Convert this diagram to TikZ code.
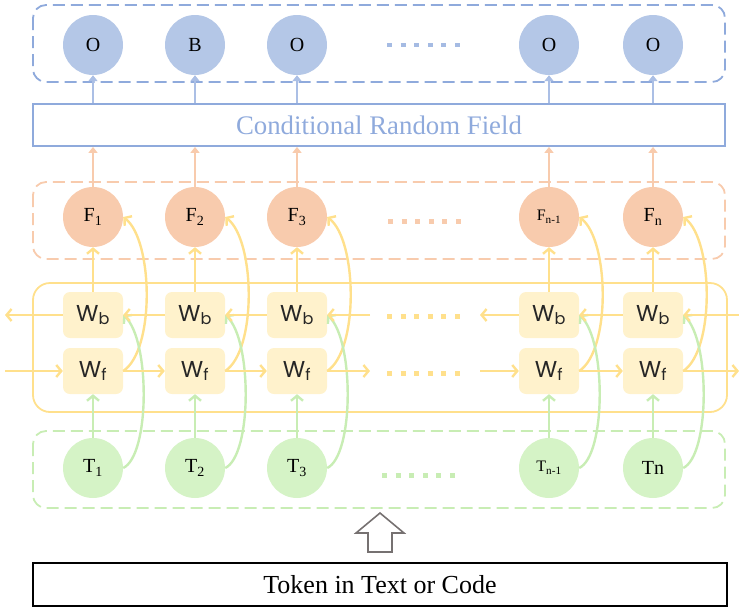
\documentclass[tikz,border=0pt]{standalone}
\usepackage{fontspec}
\setmainfont{Liberation Serif}
\newfontfamily\cellfont{Poppins}
\usetikzlibrary{arrows.meta,positioning,calc}
\definecolor{crfblue}{HTML}{B4C7E7}
\definecolor{crfline}{HTML}{8FAADC}
\definecolor{featorange}{HTML}{F8CBAD}
\definecolor{lstmfill}{HTML}{FFF2CC}
\definecolor{lstmline}{HTML}{FFE08C}
\definecolor{tokgreen}{HTML}{D5F3C6}
\definecolor{tokline}{HTML}{C8EDB4}
\definecolor{hollowgrey}{HTML}{767171}
\tikzset{
  tag/.style={circle,fill=crfblue,minimum size=60pt,inner sep=0pt,
              font=\fontsize{20}{20}\selectfont},
  feat/.style={circle,fill=featorange,minimum size=60pt,inner sep=0pt,
               font=\fontsize{20}{20}\selectfont},
  tok/.style={circle,fill=tokgreen,minimum size=60pt,inner sep=0pt,
              font=\fontsize{20}{20}\selectfont},
  cell/.style={fill=lstmfill,rounded corners=7pt,minimum width=60pt,
               minimum height=46pt,inner sep=0pt,text=black!85,
               font=\cellfont\fontsize{23}{23}\selectfont},
  group/.style={dash pattern=on 12pt off 6pt,line width=1.8pt,rounded corners=13pt},
  dots/.style={line width=5pt,dash pattern=on 5pt off 8.6pt},
  blar/.style={-{Triangle[length=6pt,width=9pt]},line width=2.2pt,crfline!75},
  orar/.style={-{Triangle[length=6pt,width=9pt]},line width=2.2pt,featorange},
  ylar/.style={-{Straight Barb[length=5pt,width=12pt]},line width=2.4pt,lstmline},
  grar/.style={-{Straight Barb[length=5pt,width=12pt]},line width=2.4pt,tokline},
}
\begin{document}
\begin{tikzpicture}[x=1pt,y=-1pt]
  \useasboundingbox (0,0) rectangle (739,608);
  % layer frames
  \draw[group,crfline] (33,5) rectangle (725,82);
  \draw[group,featorange] (33,182) rectangle (725,259);
  \draw[lstmline,line width=1.8pt,rounded corners=17pt] (33,283) rectangle (727,412);
  \draw[group,tokline] (33,431) rectangle (725,508);

  \node[draw=crfline,line width=1.8pt,minimum width=692pt,minimum height=42pt,
        text=crfline,font=\fontsize{26.8}{30}\selectfont] (crf) at (379,125)
       {Conditional Random Field};
  \node[draw,line width=2.2pt,minimum width=694pt,minimum height=43pt,
        font=\fontsize{26}{30}\selectfont] (input) at (380,584.5)
       {Token in Text or Code};

  % one column per token
  \foreach \i/\x/\tg/\fl/\tl in {
      1/93/O/{F\textsubscript{1}}/{T\textsubscript{1}},
      2/195/B/{F\textsubscript{2}}/{T\textsubscript{2}},
      3/297/O/{F\textsubscript{3}}/{T\textsubscript{3}},
      4/549/O/{\fontsize{16}{16}\selectfont F\textsubscript{n-1}}/{\fontsize{16}{16}\selectfont T\textsubscript{n-1}},
      5/653/O/{F\textsubscript{n}}/{Tn}}{
    \node[tag] (o\i) at (\x,45) {\tg};
    \node[feat] (f\i) at (\x,217) {\fl};
    \node[cell] (wb\i) at (\x,315) {W\textsubscript{b}};
    \node[cell] (wf\i) at (\x,371) {W\textsubscript{f}};
    \node[tok] (t\i) at (\x,468) {\tl};
    \draw[blar] (crf.north -| o\i) -- (o\i);
    \draw[orar] (f\i) -- (crf.south -| f\i);
    \draw[ylar] (wb\i) -- (f\i);
    \draw[grar] (t\i) -- (wf\i);
    % skip links
    \draw[ylar] (wf\i.east) .. controls +(32,-21) and +(30,23) .. (f\i.east);
    \draw[grar] (t\i.east) .. controls +(27,-13) and +(27,25) .. (wb\i.east);
  }

  % recurrent chains
  \coordinate (wbout) at (5,315);
  \coordinate (wbin) at (739,315);
  \coordinate (wbgap) at (370,315);
  \coordinate (wbgapr) at (480,315);
  \coordinate (wfin) at (5,371);
  \coordinate (wfout) at (739,371);
  \coordinate (wfgap) at (370,371);
  \coordinate (wfgapr) at (480,371);
  \draw[ylar] (wb1) -- (wbout);
  \draw[ylar] (wb2) -- (wb1);
  \draw[ylar] (wb3) -- (wb2);
  \draw[ylar] (wbgap) -- (wb3);
  \draw[ylar] (wb4) -- (wbgapr);
  \draw[ylar] (wb5) -- (wb4);
  \draw[ylar] (wbin) -- (wb5);
  \draw[ylar] (wfin) -- (wf1);
  \draw[ylar] (wf1) -- (wf2);
  \draw[ylar] (wf2) -- (wf3);
  \draw[ylar] (wf3) -- (wfgap);
  \draw[ylar] (wfgapr) -- (wf4);
  \draw[ylar] (wf4) -- (wf5);
  \draw[ylar] (wf5) -- (wfout);

  % ellipses
  \draw[dots,crfline!80,line width=4pt] (387,45) -- (460,45);
  \draw[dots,featorange] (388,221) -- (461,221);
  \draw[dots,lstmline] (387,316) -- (460,316);
  \draw[dots,lstmline] (387,373) -- (460,373);
  \draw[dots,tokline] (382,475) -- (455,475);

  % input arrow
  \draw[hollowgrey,line width=1.6pt] (380,513) -- (404,533) -- (392,533)
    -- (392,552) -- (368,552) -- (368,533) -- (356,533) -- cycle;
\end{tikzpicture}
\end{document}
